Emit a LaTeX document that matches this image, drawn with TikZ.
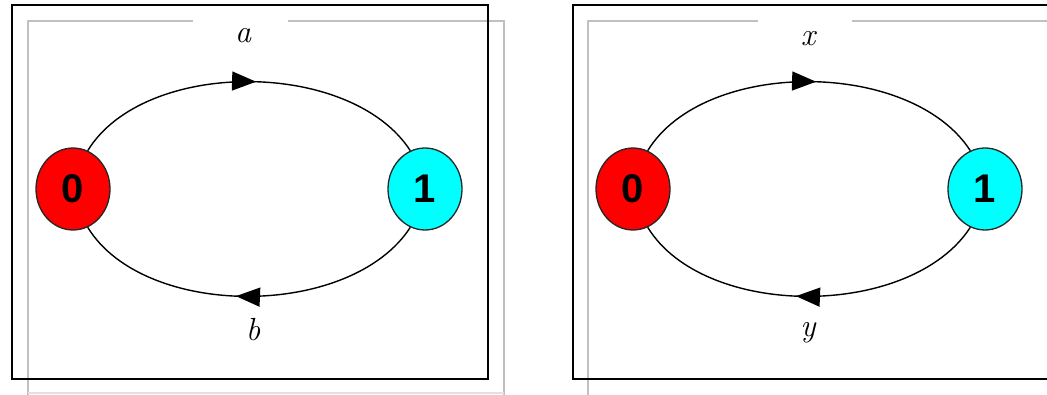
\documentclass[tikz,border=0pt]{standalone}
\usepackage{fontspec}
\newfontfamily\digitfont{Liberation Sans}
\usetikzlibrary{shapes.geometric,arrows.meta,decorations.markings}
\definecolor{framegray}{RGB}{192,192,192}
\definecolor{faintgray}{RGB}{225,225,225}
\definecolor{nodered}{RGB}{255,0,0}
\definecolor{nodecyan}{RGB}{0,255,255}
\tikzset{
  statenode/.style={ellipse, draw=black!85, line width=1.3pt, minimum width=74pt, minimum height=82pt, inner sep=0pt,
    font=\digitfont\bfseries\fontsize{40}{42}\selectfont},
  grayline/.style={draw=framegray, line width=2pt},
  blackframe/.style={draw=black, line width=2.2pt},
  edgeline/.style={draw=black, line width=1.4pt},
  midarrow/.style={postaction={decorate, decoration={markings, mark=at position #1 with {\arrow{Triangle[length=24pt,width=19pt]}}}}},
  edgelabel/.style={font=\itshape\fontsize{32}{34}\selectfont}
}
\begin{document}
\begin{tikzpicture}[x=1pt,y=-1pt]
\useasboundingbox (0,0) rectangle (1047,395);
% gray frames (left panel)
\coordinate (g1a) at (193,21); \coordinate (g1b) at (27,21); \coordinate (g1c) at (28,395);
\coordinate (g1d) at (288,21); \coordinate (g1e) at (504,21); \coordinate (g1f) at (504,395);
\draw[grayline] (g1a) -- (g1b) -- (28,21) -- (g1c);
\draw[grayline] (g1d) -- (g1e) -- (g1f);
\draw[draw=faintgray, line width=1.5pt] (28,393) -- (504,393);
% gray frames (right panel)
\coordinate (g2a) at (758,21); \coordinate (g2b) at (588,21); \coordinate (g2c) at (588,395);
\coordinate (g2d) at (852,21); \coordinate (g2e) at (1047,21);
\draw[grayline] (g2a) -- (g2b) -- (g2c);
\draw[grayline] (g2d) -- (g2e);
% black frames
\draw[blackframe] (12,5) rectangle (488,379);
\coordinate (b2a) at (1047,5); \coordinate (b2b) at (573,5); \coordinate (b2c) at (573,379); \coordinate (b2d) at (1047,379);
\draw[blackframe] (b2a) -- (b2b) -- (b2c) -- (b2d);

% left diagram
\node[statenode, fill=nodered] (l0) at (73,189) {0};
\node[statenode, fill=nodecyan] (l1) at (425,189) {1};
\draw[edgeline, midarrow=0.52] (l0.69) .. controls +(56.6,-92.4) and +(-59.2,-91.7) .. (l1.111);
\draw[edgeline, midarrow=0.535] (l1.-111) .. controls +(-59.2,91.7) and +(56.6,92.4) .. (l0.-69);
\node[edgelabel] (la) at (243,36) {a};
\node[edgelabel] (lb) at (253,330) {b};

% right diagram
\node[statenode, fill=nodered] (r0) at (633,189) {0};
\node[statenode, fill=nodecyan] (r1) at (985,189) {1};
\draw[edgeline, midarrow=0.52] (r0.69) .. controls +(56.6,-92.4) and +(-59.2,-91.7) .. (r1.111);
\draw[edgeline, midarrow=0.535] (r1.-111) .. controls +(-59.2,91.7) and +(56.6,92.4) .. (r0.-69);
\node[edgelabel] (rx) at (808,39) {x};
\node[edgelabel] (ry) at (808,333) {y};
\end{tikzpicture}
\end{document}
